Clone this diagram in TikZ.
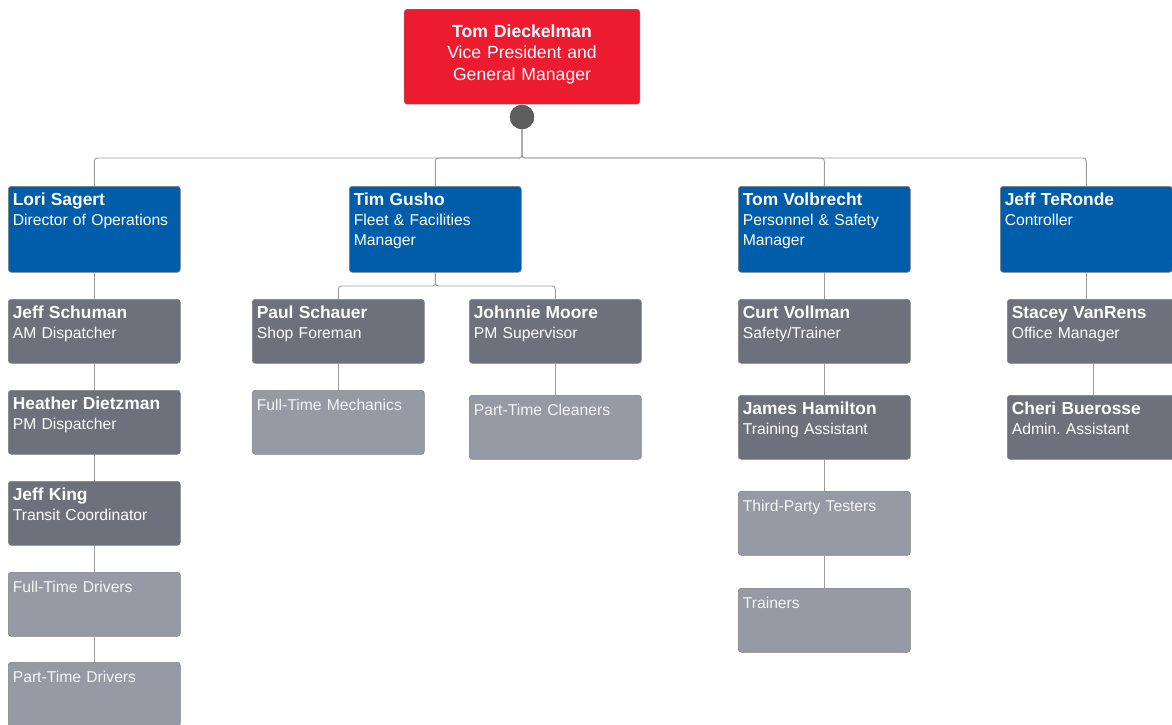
\documentclass[tikz,border=0pt]{standalone}
\usepackage{fontspec}
\setmainfont{Liberation Sans}
\usepackage{xcolor}
\usetikzlibrary{positioning}
\definecolor{vpred}{HTML}{ED1B2F}
\definecolor{headblue}{HTML}{005DAA}
\definecolor{staffgray}{HTML}{6C717B}
\definecolor{crewgray}{HTML}{959AA4}
\definecolor{linkgray}{HTML}{9C9C9C}
\definecolor{hubgray}{HTML}{5E5E5E}
\frenchspacing
\newcommand\orgfont{\fontsize{15.7}{20}\selectfont\hyphenpenalty=10000\relax}
\newcommand\who[1]{{\fontsize{17.4}{20}\selectfont\bfseries #1}}

\begin{document}
\begin{tikzpicture}[x=1pt,y=-1pt,
	box/.style={draw=black!50,line width=0.6pt,rounded corners=3pt,anchor=north west,align=left,
		inner xsep=4.5pt,inner ysep=4pt,text=white,text width=163pt,
		font=\orgfont,text height=15pt},
	head/.style={box,fill=headblue,text depth=63pt},
	staff/.style={box,fill=staffgray,text depth=41pt},
	crew/.style={box,fill=crewgray,text height=16pt,text depth=40pt,text=white!90!crewgray},
	link/.style={draw=linkgray,line width=0.9pt,rounded corners=3pt}]
			
			\useasboundingbox (0,0) rectangle (1172,724);
			
			\node[draw=black!50,fill=vpred,rounded corners=3pt,anchor=north,inner ysep=0pt,
				text width=229pt,text height=28pt,text depth=67pt,
				align=center,text=white,font=\fontsize{17.6}{21.5}\selectfont] (vp) at (522,9)
				{\textbf{Tom Dieckelman}\\Vice President and\\General Manager};
			\node[circle,fill=hubgray,draw=hubgray!80!black,minimum size=24pt,inner sep=0pt] (hub) at (522,117) {};
			\coordinate (bus) at (522,158);
			
			\node[head] (lori) at (8,186) {\who{Lori Sagert}\\Director of Operations};
			\node[head] (tim) at (349,186) {\who{Tim Gusho}\\Fleet \& Facilities\\Manager};
			\node[head] (tomv) at (738,186) {\who{Tom Volbrecht}\\Personnel \& Safety\\Manager};
			\node[head] (jefft) at (1000,186) {\who{Jeff TeRonde}\\Controller};
			
			\node[staff] (jschu) at (8,299) {\who{Jeff Schuman}\\AM Dispatcher};
			\node[staff] (heather) at (8,390) {\who{Heather Dietzman}\\PM Dispatcher};
			\node[staff] (jking) at (8,481) {\who{Jeff King}\\Transit Coordinator};
			\node[crew] (ftdrivers) at (8,572) {Full-Time Drivers};
			\node[crew] (ptdrivers) at (8,662) {Part-Time Drivers};
			
			\node[staff] (paul) at (252,299) {\who{Paul Schauer}\\Shop Foreman};
			\node[staff] (johnnie) at (469,299) {\who{Johnnie Moore}\\PM Supervisor};
			\node[crew] (mechanics) at (252,390) {Full-Time Mechanics};
			\node[crew] (cleaners) at (469,395) {Part-Time Cleaners};
			\coordinate (fleetbus) at (435.5,286);
			
			\node[staff] (curt) at (738,299) {\who{Curt Vollman}\\Safety/Trainer};
			\node[staff] (james) at (738,395) {\who{James Hamilton}\\Training Assistant};
			\node[crew] (testers) at (738,491) {Third-Party Testers};
			\node[crew] (trainers) at (738,588) {Trainers};
			
			\node[staff] (stacey) at (1007,299) {\who{Stacey VanRens}\\Office Manager};
			\node[staff] (cheri) at (1007,395) {\who{Cheri Buerosse}\\Admin. Assistant};
			
			\draw[link] (hub.south)--(bus)-|(lori.north);
			\draw[link] (hub.south)--(bus)-|(tim.north);
			\draw[link] (hub.south)--(bus)-|(tomv.north);
			\draw[link] (hub.south)--(bus)-|(jefft.north);
			
			\draw[link] (lori)--(jschu);
			\draw[link] (jschu)--(heather);
			\draw[link] (heather)--(jking);
			\draw[link] (jking)--(ftdrivers);
			\draw[link] (ftdrivers)--(ptdrivers);
			
			\draw[link] (tim.south)--(fleetbus)-|(paul.north);
			\draw[link] (tim.south)--(fleetbus)-|(johnnie.north);
			\draw[link] (paul)--(mechanics);
			\draw[link] (johnnie)--(cleaners);
			
			\draw[link] (tomv)--(curt);
			\draw[link] (curt)--(james);
			\draw[link] (james)--(testers);
			\draw[link] (testers)--(trainers);
			
			\draw[link] (jefft.south)--(jefft.south|-stacey.north);
			\draw[link] (stacey)--(cheri);
			
		\end{tikzpicture}
\end{document}
